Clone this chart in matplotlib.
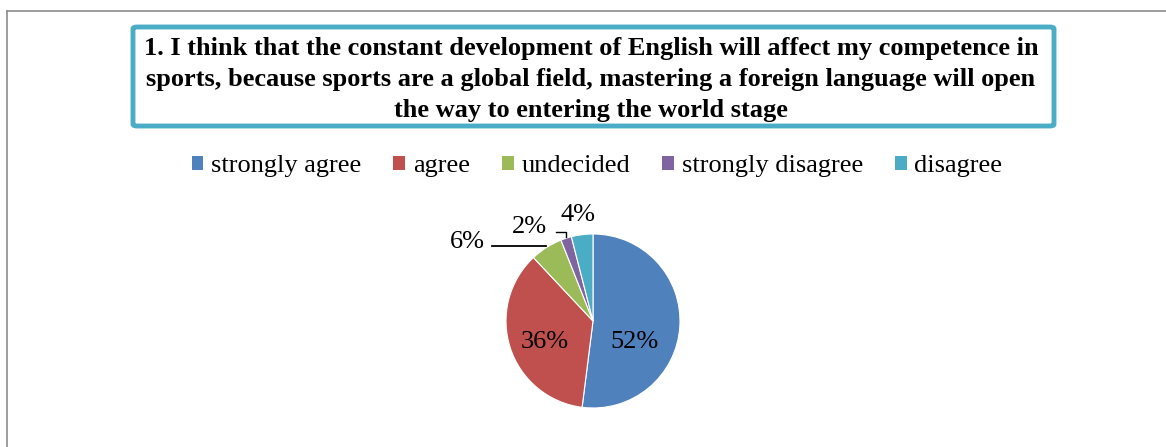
import matplotlib
matplotlib.use("Agg")
import matplotlib.pyplot as plt
from matplotlib.patches import FancyBboxPatch, Patch
from matplotlib.lines import Line2D

categories = ["strongly agree", "agree", "undecided", "strongly disagree", "disagree"]
values = [52, 36, 6, 2, 4]
colors = ["#4F81BD", "#C0504D", "#9BBB59", "#8064A2", "#4BACC6"]
title_lines = [
    "1. I think that the constant development of English will affect my competence in",
    "sports, because sports are a global field, mastering a foreign language will open",
    "the way to entering the world stage",
]

plt.rcParams["font.family"] = ["Liberation Serif", "DejaVu Serif"]

W, H = 1166, 447
fig = plt.figure(figsize=(W / 100, H / 100), dpi=100)

def fx(px):
    return px / W

def fy(py):
    return 1 - py / H

# outer chart border (top and left visible)
fig.add_artist(Line2D([fx(7), fx(7)], [fy(11), fy(447)], color="#8c8c8c", lw=1.2))
fig.add_artist(Line2D([fx(7), fx(1166)], [fy(11), fy(11)], color="#8c8c8c", lw=1.2))

# title box
box = FancyBboxPatch((fx(133), fy(126)), fx(1054) - fx(133), fy(27) - fy(126),
                     boxstyle="round,pad=0,rounding_size=0.004",
                     transform=fig.transFigure, facecolor="white",
                     edgecolor="#4BACC6", linewidth=3.5)
fig.add_artist(box)
for i, line in enumerate(title_lines):
    fig.text(fx(591), fy(48 + i * 31.5), line, ha="center", va="center",
             fontsize=19, fontweight="bold", color="black")

# legend
handles = [Patch(facecolor=c, edgecolor="none") for c in colors]
fig.legend(handles, categories, loc="center", bbox_to_anchor=(fx(597), fy(166)),
           ncol=5, frameon=False, fontsize=19, handlelength=0.45, handleheight=0.45,
           handletextpad=0.3, columnspacing=1.2, borderaxespad=0)

# pie
cx, cy, r = 593, 321, 87
ax = fig.add_axes([fx(cx - r), fy(cy + r), (2 * r) / W, (2 * r) / H])
ax.pie(values, colors=colors, startangle=90, counterclock=False, radius=1,
       wedgeprops=dict(edgecolor="white", linewidth=0.8))
ax.set_xlim(-1, 1)
ax.set_ylim(-1, 1)
ax.set_aspect("equal")
ax.axis("off")

labels = [f"{v}%" for v in values]
label_pos = [(0.48, -0.24), (-0.55, -0.24), (-1.44, 0.91), (-0.73, 1.08), (-0.17, 1.22)]
for lab, (x, y) in zip(labels, label_pos):
    ax.text(x, y, lab, ha="center", va="center", fontsize=19, clip_on=False)

# leader lines
ax.plot([-1.16, -0.54], [0.86, 0.86], color="black", lw=1.3, clip_on=False)
ax.plot([-0.43, -0.31, -0.31], [1.02, 1.02, 0.96], color="black", lw=1.0, clip_on=False)

fig.savefig("out.png", dpi=100)
